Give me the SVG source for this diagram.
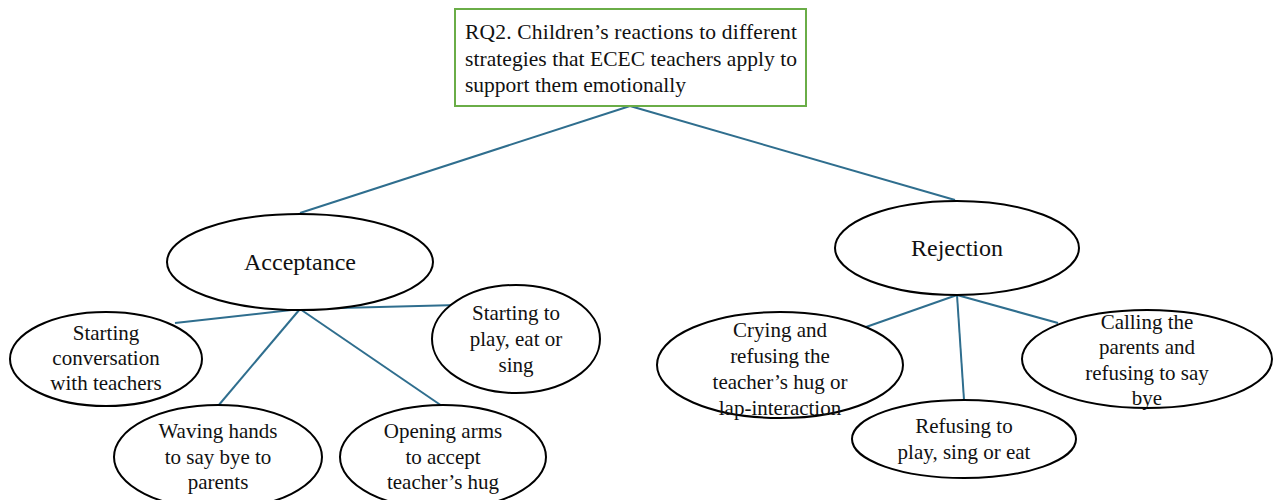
<svg xmlns="http://www.w3.org/2000/svg" width="1277" height="500" viewBox="0 0 1277 500">
<style>
text{font-family:"Liberation Serif","Times New Roman",serif;font-size:21px;fill:#111}
.n{text-anchor:middle}
.big{font-size:24px}
.top{font-size:21.5px}
ellipse{fill:#fff;stroke:#000;stroke-width:2}
.c line{stroke:#2f6e8e;stroke-width:2}
</style>
<rect width="1277" height="500" fill="#fff"/>
<g class="c" id="connectors">
<line x1="630" y1="106" x2="300" y2="213"/>
<line x1="630" y1="106" x2="955" y2="200"/>
<line x1="300" y1="309" x2="175" y2="323"/>
<line x1="300" y1="309" x2="458" y2="305"/>
<line x1="300" y1="309" x2="218" y2="406"/>
<line x1="300" y1="309" x2="442" y2="406"/>
<line x1="957" y1="295" x2="866" y2="327"/>
<line x1="957" y1="295" x2="964" y2="400"/>
<line x1="957" y1="295" x2="1058" y2="323"/>
</g>
<g id="rq2">
<rect x="455" y="9" width="351" height="97" fill="#fff" stroke="#6aad47" stroke-width="2"/>
<text class="top" x="465" y="39" textLength="332" lengthAdjust="spacing">RQ2. Children’s reactions to different</text>
<text class="top" x="465" y="66" textLength="332" lengthAdjust="spacing">strategies that ECEC teachers apply to</text>
<text class="top" x="465" y="92">support them emotionally</text>
</g>
<g id="acceptance">
<ellipse cx="300" cy="262" rx="133" ry="48"/>
<text class="n big" x="300" y="270">Acceptance</text>
</g>
<g id="rejection">
<ellipse cx="957" cy="248" rx="122" ry="47"/>
<text class="n big" x="957" y="256">Rejection</text>
</g>
<g id="starting-conversation">
<ellipse cx="106" cy="359" rx="96" ry="47"/>
<text class="n" x="106" y="340">Starting</text>
<text class="n" x="106" y="365">conversation</text>
<text class="n" x="106" y="390">with teachers</text>
</g>
<g id="starting-play">
<ellipse cx="516" cy="339" rx="84" ry="54"/>
<text class="n" x="516" y="320">Starting to</text>
<text class="n" x="516" y="346">play, eat or</text>
<text class="n" x="516" y="372">sing</text>
</g>
<g id="waving">
<ellipse cx="218" cy="457" rx="104" ry="52"/>
<text class="n" x="218" y="438">Waving hands</text>
<text class="n" x="218" y="464">to say bye to</text>
<text class="n" x="218" y="489">parents</text>
</g>
<g id="opening">
<ellipse cx="443" cy="457" rx="103" ry="52"/>
<text class="n" x="443" y="438">Opening arms</text>
<text class="n" x="443" y="464">to accept</text>
<text class="n" x="443" y="489">teacher’s hug</text>
</g>
<g id="crying">
<ellipse cx="780" cy="365" rx="123" ry="53"/>
<text class="n" x="780" y="337">Crying and</text>
<text class="n" x="780" y="363">refusing the</text>
<text class="n" x="780" y="389">teacher’s hug or</text>
<text class="n" x="780" y="415">lap-interaction</text>
</g>
<g id="refusing">
<ellipse cx="964" cy="439" rx="112" ry="39"/>
<text class="n" x="964" y="433">Refusing to</text>
<text class="n" x="964" y="459">play, sing or eat</text>
</g>
<g id="calling">
<ellipse cx="1147" cy="359" rx="125" ry="49"/>
<text class="n" x="1147" y="329">Calling the</text>
<text class="n" x="1147" y="354">parents and</text>
<text class="n" x="1147" y="380">refusing to say</text>
<text class="n" x="1147" y="405">bye</text>
</g>
</svg>
